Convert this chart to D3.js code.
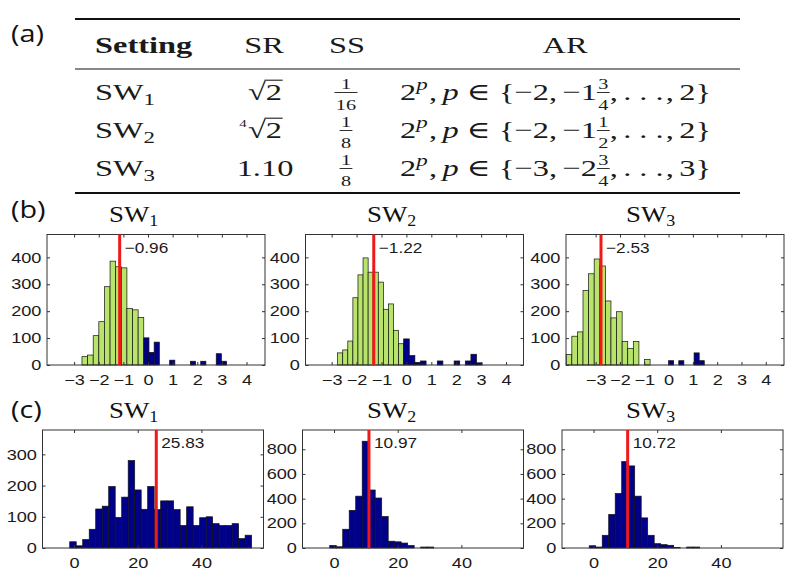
<!DOCTYPE html>
<html>
<head>
<meta charset="utf-8">
<script src="https://cdn.jsdelivr.net/npm/d3@7/dist/d3.min.js"></script>
<style>
html,body{margin:0;padding:0;background:#fff;}
svg{display:block;}
</style>
</head>
<body>
<svg id="fig" width="800" height="582" xmlns="http://www.w3.org/2000/svg"></svg>
<script>
// ---------------- (a) table data ----------------
const tableHeaders = ["Setting", "SR", "SS", "AR"];
const settingNames = ["SW", "SW", "SW"];
const settingSubs = ["1", "2", "3"];
const srIndex = ["", "4", null];          // "" = square root, "4" = fourth root, null = plain number
const srText = ["2", "2", "1.10"];
const ssNum = ["1", "1", "1"];
const ssDen = ["16", "8", "8"];
const arFirst = ["−2", "−2", "−3"];
const arWhole = ["−1", "−1", "−2"];
const arNum = ["3", "1", "3"];
const arDen = ["4", "2", "4"];
const arLast = ["2", "2", "3"];

// ---------------- (b) histogram data ----------------
const bSubs = ["1", "2", "3"];
const bGreenStart = [-2.68, -2.76, -4.21];
const bGreenWidth = [0.228, 0.204, 0.23];
const bGreenCounts = [
  [31, 37, 109, 161, 291, 386, 365, 361, 210, 205, 177],
  [45, 56, 89, 250, 335, 398, 345, 345, 308, 207, 227, 129, 79],
  [39, 107, 123, 277, 339, 394, 368, 238, 175, 198, 88, 62, 88, 0, 20]
];
const bBlueStart = [-0.17, -0.11, 0.0];
const bBlueWidth = [0.21, 0.225, 0.21];
const bBlueCounts = [
  [101, 47, 85, 0, 0, 18, 0, 0, 0, 14, 0, 14, 0, 0, 42, 14],
  [97, 35, 10, 15, 0, 0, 15, 0, 0, 15, 0, 15, 40, 8],
  [16, 0, 16, 0, 0, 45, 16]
];
const bMarkerPos = [-1.15, -1.31, -2.78];
const bMarkerText = ["−0.96", "−1.22", "−2.53"];
const bXTicks = [-3, -2, -1, 0, 1, 2, 3, 4];
const bYTicks = [0, 100, 200, 300, 400];
const bXDomains = [[-4.1, 4.75], [-4.05, 4.7], [-4.22, 4.75]];
const bYMax = 485;

// ---------------- (c) histogram data ----------------
const cSubs = ["1", "2", "3"];
const cBinStart = -1.35;
const cBinWidth = 2.04;
const cCounts = [
  [20, 7, 27, 60, 125, 134, 197, 98, 163, 280, 186, 124, 197, 123, 151, 151, 123, 72, 132, 72, 97, 100, 78, 72, 72, 78, 30, 41],
  [20, 10, 152, 305, 420, 865, 470, 405, 255, 55, 50, 40, 20, 0, 8, 8],
  [18, 8, 103, 272, 442, 700, 665, 420, 244, 103, 35, 27, 22, 5, 0, 8, 8]
];
const cMarkerPos = [25.83, 10.97, 10.72];
const cMarkerText = ["25.83", "10.97", "10.72"];
const cXTicks = [0, 20, 40];
const cYTicks = [[0, 100, 200, 300], [0, 200, 400, 600, 800], [0, 200, 400, 600, 800]];
const cXDomain = [-9.9, 59.5];
const cYMax = [378, 956, 956];

// ---------------- styling / layout ----------------
const SANS = "'Liberation Sans', Arial, Helvetica, sans-serif";
const SERIF = "'Liberation Serif', 'Times New Roman', 'DejaVu Serif', serif";
const GREEN = "#b8e46c";
const BLUE = "#000088";
const RED = "#f01818";
const INK = "#1a1a1a";

const svg = d3.select("#fig");
svg.append("rect").attr("width", 800).attr("height", 582).attr("fill", "#fff");

function sText(parent, x, y, str, o) {
  o = o || {};
  const t = parent.append("text")
    .attr("transform", `translate(${x},${y}) scale(${o.sx || 1},1)`)
    .attr("font-family", o.family || SERIF)
    .attr("font-size", o.size || 24)
    .attr("fill", o.fill || INK)
    .attr("text-anchor", o.anchor || "start");
  if (o.weight) t.attr("font-weight", o.weight);
  if (o.italic) t.attr("font-style", "italic");
  t.text(str);
  return t;
}

// panel letters
const LBL = { family: "'Open Sans', 'Liberation Sans', sans-serif", size: 24, sx: 1.2, fill: "#111" };
sText(svg, 11, 42, "(a)", LBL);
sText(svg, 11, 218, "(b)", LBL);
sText(svg, 11, 418, "(c)", LBL);

// ---------------- (a) table ----------------
const TX = 1.35;          // horizontal stretch of the table text
const TFS = 24;           // table font size
const tbl = svg.append("g");
const ruleX0 = 75, ruleX1 = 740;
tbl.append("line").attr("x1", ruleX0).attr("x2", ruleX1).attr("y1", 19).attr("y2", 19).attr("stroke", "#111").attr("stroke-width", 2);
tbl.append("line").attr("x1", ruleX0).attr("x2", ruleX1).attr("y1", 69).attr("y2", 69).attr("stroke", "#111").attr("stroke-width", 1.2);
tbl.append("line").attr("x1", ruleX0).attr("x2", ruleX1).attr("y1", 193).attr("y2", 193).attr("stroke", "#111").attr("stroke-width", 2);

const headY = 53;
sText(tbl, 95, headY, tableHeaders[0], { size: TFS, sx: TX, weight: "bold" });
sText(tbl, 264, headY, tableHeaders[1], { size: TFS, sx: TX, anchor: "middle" });
sText(tbl, 347, headY, tableHeaders[2], { size: TFS, sx: TX, anchor: "middle" });
sText(tbl, 565, headY, tableHeaders[3], { size: TFS, sx: TX, anchor: "middle" });

const rowY = [100, 138, 176];

function fracLocal(g, x, num, den, size) {
  const n = g.append("text").attr("font-family", SERIF).attr("font-size", size).attr("fill", INK).text(num);
  const d = g.append("text").attr("font-family", SERIF).attr("font-size", size).attr("fill", INK).text(den);
  const wn = n.node().getComputedTextLength(), wd = d.node().getComputedTextLength();
  const w = Math.max(wn, wd) + 2;
  n.attr("x", x + (w - wn) / 2).attr("y", -11);
  d.attr("x", x + (w - wd) / 2).attr("y", 9.5);
  g.append("line").attr("x1", x).attr("x2", x + w).attr("y1", -7.5).attr("y2", -7.5)
    .attr("stroke", INK).attr("stroke-width", 0.9);
  return w;
}

function layoutItems(g, items) {
  let x = 0;
  items.forEach(it => {
    if (it.frac) {
      x += fracLocal(g, x, it.frac[0], it.frac[1], 15);
    } else {
      const t = g.append("text").attr("x", x).attr("y", it.dy || 0)
        .attr("font-family", SERIF).attr("font-size", it.size || TFS).attr("fill", INK)
        .text(it.t);
      if (it.italic) t.attr("font-style", "italic");
      x += t.node().getComputedTextLength();
    }
    x += it.space || 0;
  });
  return x;
}

rowY.forEach((by, i) => {
  // setting name with subscript
  const t = sText(tbl, 95, by, "", { size: TFS, sx: TX });
  t.append("tspan").text(settingNames[i]);
  t.append("tspan").attr("font-size", 17).attr("dy", 5).text(settingSubs[i]);

  // SR column
  const srC = 265;
  if (srIndex[i] === null) {
    sText(tbl, srC, by, srText[i], { size: TFS, sx: TX, anchor: "middle" });
  } else {
    const g = tbl.append("g");
    const rad = g.append("text").attr("x", 0).attr("y", 0).attr("font-family", SERIF).attr("font-size", TFS).attr("fill", INK).text("√");
    const w1 = rad.node().getComputedTextLength();
    const two = g.append("text").attr("x", w1).attr("y", 0).attr("font-family", SERIF).attr("font-size", TFS).attr("fill", INK).text(srText[i]);
    const w2 = two.node().getComputedTextLength();
    const bb = rad.node().getBBox();
    const topY = Math.min(bb.y + 1.2, -18);
    g.append("line").attr("x1", w1 - 1).attr("x2", w1 + w2 + 0.5).attr("y1", topY).attr("y2", topY)
      .attr("stroke", INK).attr("stroke-width", 1.1);
    if (srIndex[i]) {
      g.append("text").attr("x", -6.5).attr("y", -11).attr("font-family", SERIF).attr("font-size", 11).attr("fill", INK).text(srIndex[i]);
    }
    const W = (w1 + w2) * TX;
    g.attr("transform", `translate(${srC - W / 2},${by}) scale(${TX},1)`);
  }

  // SS column: fraction
  const gs = tbl.append("g");
  const wf = fracLocal(gs, 0, ssNum[i], ssDen[i], 15);
  gs.attr("transform", `translate(${346 - wf * TX / 2},${by}) scale(${TX},1)`);

  // AR column
  const ga = tbl.append("g").attr("transform", `translate(400,${by}) scale(${TX},1)`);
  layoutItems(ga, [
    { t: "2" },
    { t: "p", italic: true, size: 17, dy: -10, space: 1 },
    { t: ",", space: 4 },
    { t: "p", italic: true, space: 6 },
    { t: "∈", space: 6 },
    { t: "{" + arFirst[i] + ",", space: 4 },
    { t: arWhole[i] },
    { frac: [arNum[i], arDen[i]] },
    { t: ",", space: 4 },
    { t: ". . .", space: 1.5 },
    { t: ",", space: 4 },
    { t: arLast[i] + "}" }
  ]);
});

// ---------------- histogram panels ----------------
const TICK_FS = 14.5, TICK_SX = 1.25;

function drawPanel(o) {
  const g = svg.append("g");
  const x = d3.scaleLinear().domain(o.xDomain).range([o.left, o.left + o.width]);
  const y = d3.scaleLinear().domain([0, o.yMax]).range([o.bottom, o.top]);

  o.series.forEach(s => {
    const bins = s.counts.map((c, i) => ({ c, x0: s.start + i * s.width, x1: s.start + (i + 1) * s.width }))
      .filter(d => d.c > 0);
    g.append("g").selectAll("rect").data(bins).join("rect")
      .attr("x", d => x(d.x0)).attr("width", d => x(d.x1) - x(d.x0))
      .attr("y", d => y(d.c)).attr("height", d => y(0) - y(d.c))
      .attr("fill", s.color).attr("stroke", "#111").attr("stroke-width", 0.7);
  });

  // axes (MATLAB-style inward ticks on all four sides)
  const styleTicks = (sel) => {
    sel.select(".domain").remove();
    sel.selectAll(".tick line").attr("stroke", "#333");
  };
  const styleLabels = (sel) => {
    sel.attr("font-family", SANS).attr("font-size", TICK_FS);
    sel.selectAll(".tick text")
      .attr("font-family", SANS).attr("font-size", TICK_FS)
      .attr("fill", INK).attr("transform", `scale(${TICK_SX},1)`);
  };
  const fmt = d3.format("d");
  g.append("g").attr("transform", `translate(0,${o.bottom})`)
    .call(d3.axisBottom(x).tickValues(o.xTicks).tickSize(-3).tickSizeOuter(0).tickPadding(9.5).tickFormat(fmt))
    .call(styleTicks).call(styleLabels);
  g.append("g").attr("transform", `translate(0,${o.top})`)
    .call(d3.axisTop(x).tickValues(o.xTicks).tickSize(-3).tickSizeOuter(0).tickFormat(""))
    .call(styleTicks);
  g.append("g").attr("transform", `translate(${o.left},0)`)
    .call(d3.axisLeft(y).tickValues(o.yTicks).tickSize(-3).tickSizeOuter(0).tickPadding(4.5).tickFormat(fmt))
    .call(styleTicks).call(styleLabels);
  g.append("g").attr("transform", `translate(${o.left + o.width},0)`)
    .call(d3.axisRight(y).tickValues(o.yTicks).tickSize(-3).tickSizeOuter(0).tickFormat(""))
    .call(styleTicks);

  // box
  g.append("rect").attr("x", o.left).attr("y", o.top).attr("width", o.width).attr("height", o.bottom - o.top)
    .attr("fill", "none").attr("stroke", "#333").attr("stroke-width", 1);

  // marker line and its label
  const mx = x(o.marker);
  g.append("line").attr("x1", mx).attr("x2", mx).attr("y1", o.top).attr("y2", o.bottom)
    .attr("stroke", RED).attr("stroke-width", 3);
  sText(g, mx + 5, o.top + 18, o.markerText, { family: SANS, size: 15, sx: 1.15 });

  // title
  const t = sText(g, o.titleX, o.titleY, "", { size: 24, sx: 1.12, fill: "#111" });
  t.append("tspan").text("SW");
  t.append("tspan").attr("font-size", 16).attr("dy", 4).text(o.sub);
}

const bLeft = [47, 305.5, 566], bW = 218, bTop = 234.5, bBottom = 365;
const cLeft = [42.5, 302.5, 562], cW = 221, cTop = 430, cBottom = 548;
const titleX = [109, 367, 626];

for (let i = 0; i < 3; i++) {
  drawPanel({
    left: bLeft[i], width: bW, top: bTop, bottom: bBottom,
    xDomain: bXDomains[i], yMax: bYMax, xTicks: bXTicks, yTicks: bYTicks,
    series: [
      { start: bGreenStart[i], width: bGreenWidth[i], counts: bGreenCounts[i], color: GREEN },
      { start: bBlueStart[i], width: bBlueWidth[i], counts: bBlueCounts[i], color: BLUE }
    ],
    marker: bMarkerPos[i], markerText: bMarkerText[i],
    titleX: titleX[i], titleY: 221.5, sub: bSubs[i]
  });
  drawPanel({
    left: cLeft[i], width: cW, top: cTop, bottom: cBottom,
    xDomain: cXDomain, yMax: cYMax[i], xTicks: cXTicks, yTicks: cYTicks[i],
    series: [
      { start: cBinStart, width: cBinWidth, counts: cCounts[i], color: BLUE }
    ],
    marker: cMarkerPos[i], markerText: cMarkerText[i],
    titleX: titleX[i], titleY: 418, sub: cSubs[i]
  });
}
</script>
</body>
</html>
